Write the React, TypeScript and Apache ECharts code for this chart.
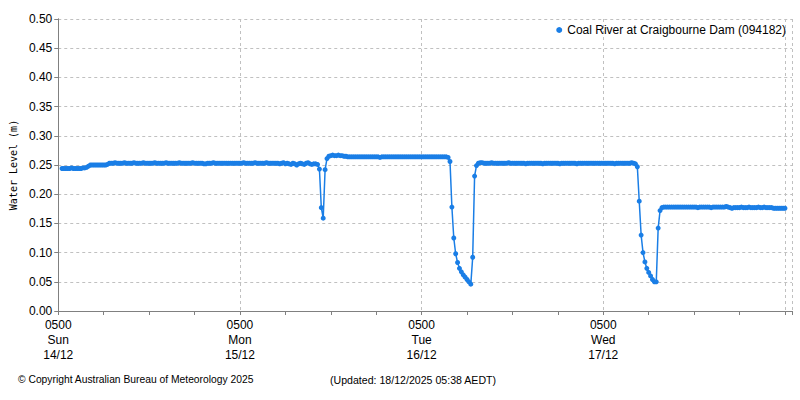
import React, { useEffect, useRef } from 'react';
import * as echarts from 'echarts';

// ---- Data (water level in metres, 15-minute readings) ----
const seriesName = 'Coal River at Craigbourne Dam (094182)';
const stepHours = 0.25; // 15-minute readings
// hours after Sun 14/12 05:00 at which each block begins
const sunStartHour = 0.5;
const monStartHour = 24;
const tueStartHour = 48;
const wedStartHour = 72;
const thuStartHour = 96;

// Sun 14/12 05:30 -> Mon 15/12 04:45
const sunLevels = [
  0.244, 0.244,
  0.244, 0.244, 0.244, 0.245,
  0.244, 0.244, 0.244, 0.244,
  0.244, 0.245, 0.245, 0.246,
  0.248, 0.250, 0.250, 0.250,
  0.250, 0.250, 0.250, 0.250,
  0.250, 0.250, 0.251, 0.253,
  0.253, 0.253, 0.254, 0.253,
  0.253, 0.253, 0.253, 0.254,
  0.253, 0.253, 0.253, 0.253,
  0.254, 0.253, 0.253, 0.253,
  0.253, 0.254, 0.253, 0.253,
  0.253, 0.253, 0.253, 0.254,
  0.253, 0.253, 0.253, 0.253,
  0.253, 0.254, 0.253, 0.253,
  0.253, 0.253, 0.253, 0.253,
  0.254, 0.253, 0.253, 0.253,
  0.253, 0.253, 0.253, 0.254,
  0.253, 0.253, 0.253, 0.253,
  0.253, 0.252, 0.252, 0.253,
  0.253, 0.253, 0.254, 0.253,
  0.253, 0.253, 0.253, 0.253,
  0.253, 0.253, 0.253, 0.253,
  0.253, 0.253, 0.253, 0.253,
];

// Mon 15/12 05:00 -> Tue 16/12 04:45
const monLevels = [
  0.253, 0.253, 0.254, 0.253,
  0.253, 0.253, 0.253, 0.253,
  0.254, 0.253, 0.253, 0.253,
  0.253, 0.253, 0.254, 0.253,
  0.253, 0.253, 0.253, 0.253,
  0.253, 0.252, 0.253, 0.254,
  0.252, 0.253, 0.252, 0.251,
  0.253, 0.252, 0.250, 0.252,
  0.253, 0.252, 0.251, 0.253,
  0.254, 0.252, 0.251, 0.252,
  0.252, 0.251, 0.243, 0.177,
  0.159, 0.242, 0.261, 0.265,
  0.266, 0.267, 0.266, 0.266,
  0.267, 0.266, 0.266, 0.265,
  0.265, 0.264, 0.264, 0.264,
  0.264, 0.264, 0.264, 0.264,
  0.264, 0.264, 0.264, 0.264,
  0.264, 0.264, 0.264, 0.264,
  0.264, 0.264, 0.263, 0.264,
  0.264, 0.264, 0.264, 0.264,
  0.264, 0.264, 0.264, 0.264,
  0.264, 0.264, 0.264, 0.264,
  0.264, 0.264, 0.264, 0.264,
  0.264, 0.264, 0.264, 0.264,
];

// Tue 16/12 05:00 -> Wed 17/12 04:45
const tueLevels = [
  0.264, 0.264, 0.264, 0.264,
  0.264, 0.264, 0.264, 0.264,
  0.264, 0.264, 0.264, 0.264,
  0.264, 0.264, 0.263, 0.256,
  0.178, 0.125, 0.098, 0.083,
  0.073, 0.067, 0.062, 0.058,
  0.054, 0.050, 0.046, 0.092,
  0.231, 0.249, 0.253, 0.254,
  0.254, 0.253, 0.253, 0.253,
  0.253, 0.254, 0.253, 0.253,
  0.253, 0.253, 0.253, 0.253,
  0.253, 0.253, 0.254, 0.253,
  0.253, 0.253, 0.253, 0.253,
  0.253, 0.253, 0.253, 0.252,
  0.253, 0.253, 0.253, 0.253,
  0.253, 0.253, 0.253, 0.253,
  0.252, 0.253, 0.253, 0.253,
  0.253, 0.253, 0.253, 0.253,
  0.253, 0.252, 0.253, 0.253,
  0.253, 0.253, 0.253, 0.253,
  0.253, 0.253, 0.252, 0.253,
  0.253, 0.253, 0.253, 0.253,
  0.253, 0.253, 0.253, 0.253,
  0.253, 0.253, 0.253, 0.253,
];

// Wed 17/12 05:00 -> Thu 18/12 04:45
const wedLevels = [
  0.253, 0.253, 0.253, 0.253,
  0.253, 0.253, 0.252, 0.253,
  0.253, 0.253, 0.253, 0.253,
  0.253, 0.253, 0.253, 0.254,
  0.253, 0.252, 0.247, 0.188,
  0.130, 0.100, 0.084, 0.073,
  0.066, 0.060, 0.054, 0.050,
  0.050, 0.142, 0.172, 0.177,
  0.178, 0.178, 0.178, 0.178,
  0.178, 0.178, 0.178, 0.178,
  0.178, 0.178, 0.178, 0.178,
  0.178, 0.178, 0.178, 0.178,
  0.178, 0.178, 0.177, 0.178,
  0.178, 0.178, 0.178, 0.178,
  0.178, 0.177, 0.178, 0.178,
  0.178, 0.178, 0.178, 0.178,
  0.178, 0.179, 0.178, 0.177,
  0.176, 0.177, 0.177, 0.177,
  0.177, 0.178, 0.177, 0.177,
  0.177, 0.178, 0.177, 0.177,
  0.177, 0.177, 0.178, 0.177,
  0.177, 0.178, 0.177, 0.177,
  0.177, 0.177, 0.176, 0.176,
  0.176, 0.176, 0.176, 0.176,
];

// Thu 18/12 05:00
const thuLevels = [0.176];

// Axis labels
const dayTickLabels = ['0500\nSun\n14/12', '0500\nMon\n15/12', '0500\nTue\n16/12', '0500\nWed\n17/12'];
const yAxisName = 'Water Level (m)';
const copyrightText = '\u00A9 Copyright Australian Bureau of Meteorology 2025';
const updatedText = '(Updated: 18/12/2025 05:38 AEDT)';

const xMaxHour = 96.93;
const yMin = 0;
const yMax = 0.5;
const yStep = 0.05;

const blocks: Array<[number, number[]]> = [
  [sunStartHour, sunLevels],
  [monStartHour, monLevels],
  [tueStartHour, tueLevels],
  [wedStartHour, wedLevels],
  [thuStartHour, thuLevels],
];

const seriesData: Array<[number, number]> = [];
blocks.forEach(([start, vals]) => {
  vals.forEach((v, i) => seriesData.push([start + i * stepHours, v]));
});

const BLUE = '#1a7ee6';
const AXIS = '#808080';
const GRIDC = '#c0c0c0';
const DASH = [3, 3];
const FONT = 'Liberation Sans, Arial, sans-serif';

export default function App() {
  const ref = useRef<HTMLDivElement>(null);
  useEffect(() => {
    if (!ref.current) return;
    const chart = echarts.init(ref.current, undefined, { renderer: 'svg' });
    chart.setOption({
      animation: false,
      backgroundColor: '#ffffff',
      textStyle: { fontFamily: FONT },
      grid: { left: 57, right: 8, top: 19, bottom: 89, containLabel: false },
      legend: {
        data: [seriesName],
        right: 14,
        top: 24,
        padding: 0,
        icon: 'circle',
        itemWidth: 6,
        itemHeight: 6,
        textStyle: { fontFamily: FONT, fontSize: 12, color: '#000' },
      },
      xAxis: [
        {
          type: 'value',
          min: 0,
          max: xMaxHour,
          interval: 6,
          position: 'bottom',
          axisLine: { show: true, lineStyle: { color: AXIS, width: 1 } },
          axisTick: { show: true, length: 4, lineStyle: { color: AXIS } },
          axisLabel: { show: false },
          splitLine: { show: false },
        },
        {
          type: 'value',
          min: 0,
          max: xMaxHour,
          interval: 24,
          position: 'bottom',
          axisLine: { show: false },
          axisTick: { show: false },
          axisLabel: {
            show: true,
            fontFamily: FONT,
            fontSize: 12,
            color: '#000',
            lineHeight: 15,
            margin: 6,
            formatter: (v: number) => {
              const i = Math.round(v / 24);
              if (Math.abs(v - i * 24) < 1e-6 && i < dayTickLabels.length) return dayTickLabels[i];
              return '';
            },
          },
          splitLine: { show: true, lineStyle: { type: DASH, color: GRIDC, width: 1 } },
        },
      ],
      yAxis: [
        {
          type: 'value',
          min: yMin,
          max: yMax,
          interval: yStep,
          name: yAxisName,
          nameLocation: 'middle',
          nameGap: 36,
          nameTextStyle: { fontFamily: 'DejaVu Sans Mono, monospace', fontSize: 10, color: '#000' },
          axisLine: { show: true, lineStyle: { color: AXIS, width: 1 } },
          axisTick: { show: true, length: 4, lineStyle: { color: AXIS } },
          axisLabel: {
            fontFamily: FONT,
            fontSize: 12,
            color: '#000',
            margin: 6,
            formatter: (v: number) => v.toFixed(2),
          },
          splitLine: { show: true, lineStyle: { type: DASH, color: GRIDC, width: 1 } },
        },
        {
          type: 'value',
          min: yMin,
          max: yMax,
          position: 'right',
          axisLine: { show: true, lineStyle: { color: AXIS, width: 1 } },
          axisTick: { show: false },
          axisLabel: { show: false },
          splitLine: { show: false },
        },
      ],
      series: [
        {
          name: seriesName,
          type: 'line',
          xAxisIndex: 0,
          yAxisIndex: 0,
          data: seriesData,
          symbol: 'circle',
          symbolSize: 5,
          showAllSymbol: true,
          lineStyle: { color: BLUE, width: 1.5 },
          itemStyle: { color: BLUE },
          z: 5,
        },
      ],
      graphic: [
        {
          type: 'text',
          left: 18,
          top: 374,
          style: { text: copyrightText, fontFamily: FONT, fontSize: 10.3, fill: '#000' },
        },
        {
          type: 'text',
          left: 330,
          top: 374,
          style: { text: updatedText, fontFamily: FONT, fontSize: 10.6, fill: '#000' },
        },
      ],
    });
    return () => chart.dispose();
  }, []);
  return (
    <div
      ref={ref}
      style={{ position: 'fixed', left: 0, top: 0, width: 800, height: 400, background: '#fff' }}
    />
  );
}
